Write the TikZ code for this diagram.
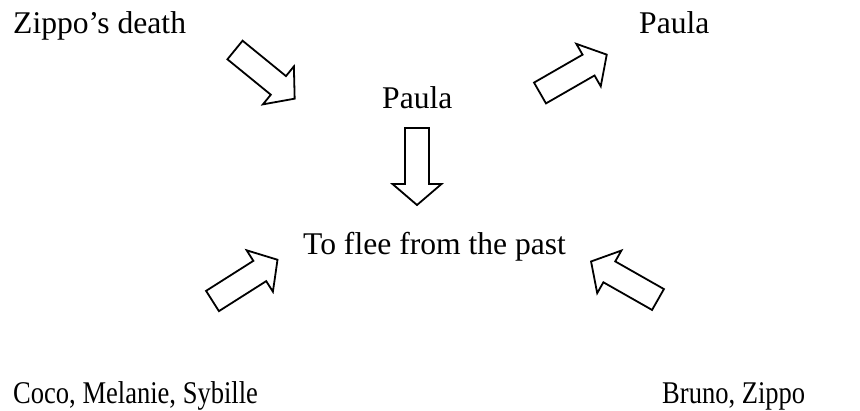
\documentclass[tikz,border=0pt]{standalone}
\usepackage{fontspec}
\setmainfont{Liberation Serif}
\newfontfamily\narrowserif[FakeStretch=0.84]{Liberation Serif}
\tikzset{
  actant/.style={anchor=base west, inner sep=0pt, font=\fontsize{31.6}{38}\selectfont},
  narrow actant/.style={actant, font=\narrowserif\fontsize{31.6}{38}\selectfont},
  hollow arrow/.pic={
    \draw[line width=1.8pt, line join=miter]
      (0,-12) -- (56,-12) -- (56,-24.5) -- (77,0) -- (56,24.5) -- (56,12) -- (0,12) -- cycle;
  }
}
\begin{document}
\begin{tikzpicture}[x=1pt,y=1pt]
\useasboundingbox (0,0) rectangle (860,-410);
% actants
\node[actant] (sender) at (13,-33) {Zippo’s death};
\node[actant] (receiver) at (639,-33) {Paula};
\node[actant] (subject) at (382,-108) {Paula};
\node[actant] (object) at (303,-254) {To flee from the past};
\node[narrow actant] (helper) at (13,-403) {Coco, Melanie, Sybille};
\node[narrow actant] (opponent) at (662,-403) {Bruno, Zippo};
% block arrows
\pic[rotate=-39.2] at (235,-50) {hollow arrow};
\pic[rotate=29.9] at (540,-93) {hollow arrow};
\pic[rotate=-90] at (417,-128) {hollow arrow};
\pic[rotate=32.4] at (212.5,-301) {hollow arrow};
\pic[rotate=150.4] at (658,-299.5) {hollow arrow};
\end{tikzpicture}
\end{document}
